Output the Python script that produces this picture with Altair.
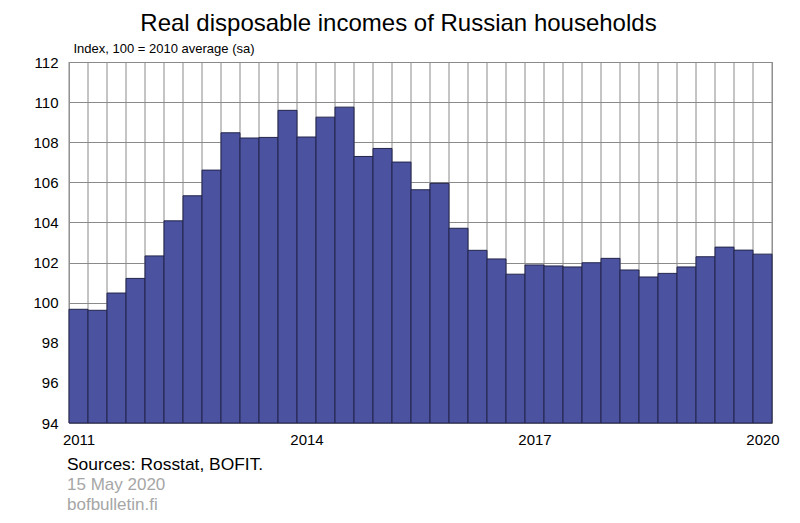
import altair as alt
import pandas as pd

# ---- data ----
years = list(range(2011, 2021))
quarters = [f"{y}Q{q}" for y in years for q in (1, 2, 3, 4)][:37]  # 2011Q1 .. 2020Q1

values = [99.67, 99.62, 100.48, 101.21,
          102.33, 104.08, 105.33, 106.61,
          108.47, 108.21, 108.24, 109.59,
          108.26, 109.25, 109.75, 107.29,
          107.69, 107.01, 105.63, 105.95,
          103.71, 102.61, 102.18, 101.42,
          101.88, 101.83, 101.78, 101.99,
          102.21, 101.63, 101.28, 101.46,
          101.78, 102.29, 102.77, 102.62,
          102.42]

tick_years = ["2011", "2014", "2017", "2020"]
y_ticks = [94, 96, 98, 100, 102, 104, 106, 108, 110, 112]

title_text = "Real disposable incomes of Russian households"
unit_text = "Index, 100 = 2010 average (sa)"
source_text = "Sources: Rosstat, BOFIT."
meta_text = "15 May 2020\nbofbulletin.fi"

# ---- tables ----
df = pd.DataFrame({
    "quarter": quarters,
    "i": list(range(len(quarters))),
    "i2": [k + 1 for k in range(len(quarters))],
    "v": values,
})
bounds = pd.DataFrame({"b": list(range(len(quarters) + 1))})

label_pos = [quarters.index(f"{y}Q1") + 0.5 for y in tick_years]
label_expr = " : ".join(
    [f"datum.value == {p} ? '{y}'" for p, y in zip(label_pos, tick_years)]
) + " : ''"

xscale = alt.Scale(domain=[0, len(quarters)], nice=False, zero=False)
yscale = alt.Scale(domain=[94, 112], nice=False, zero=False)

FILL = "#4B53A1"
GRID = "#8a8a8a"

x_axis = alt.Axis(values=label_pos, labelExpr=label_expr, grid=False,
                  ticks=False, domain=False, labelFontSize=15,
                  labelPadding=9, labelFlush=False, labelColor="black",
                  title=None)

vgrid = alt.Chart(bounds).mark_rule(color=GRID, strokeWidth=1).encode(
    x=alt.X("b:Q", scale=xscale, axis=x_axis)
)

bars = alt.Chart(df).mark_rect(color=FILL, stroke="#22244a", strokeWidth=1).encode(
    x=alt.X("i:Q", scale=xscale, axis=x_axis),
    x2="i2:Q",
    y=alt.Y("v:Q", scale=yscale,
            axis=alt.Axis(values=y_ticks, grid=True, gridColor=GRID, gridWidth=1,
                          ticks=False, domain=False, labelFontSize=15,
                          labelPadding=11, labelColor="black", labelFlush=False,
                          title=unit_text, titleAngle=0, titleAlign="left",
                          titleBaseline="alphabetic", titleX=4, titleY=-10,
                          titleFontSize=13, titleFontWeight="normal",
                          titleColor="black")),
    y2=alt.datum(94),
)

src = alt.Chart(pd.DataFrame({"t": [source_text]})).mark_text(
    align="left", baseline="alphabetic", fontSize=17.4, color="black"
).encode(text="t:N", x=alt.value(-2), y=alt.value(408))

meta = alt.Chart(pd.DataFrame({"t": [meta_text]})).mark_text(
    align="left", baseline="alphabetic", fontSize=17, color="#a6a6a6",
    lineBreak="\n", lineHeight=19.5
).encode(text="t:N", x=alt.value(-2), y=alt.value(428))

chart = alt.layer(vgrid, bars, src, meta).properties(
    width=703,
    height=361,
    autosize=alt.AutoSizeParams(type="none"),
    padding={"left": 61, "top": 54, "right": 12, "bottom": 92},
    title=alt.TitleParams(title_text, fontSize=24, fontWeight="normal",
                          anchor="middle", dx=-22, offset=6, color="black"),
    background="white",
).configure(
    font="Liberation Sans"
).configure_view(
    stroke="#999999", strokeWidth=1
)

chart.save("out.html", embed_options={"renderer": "svg", "actions": False})
